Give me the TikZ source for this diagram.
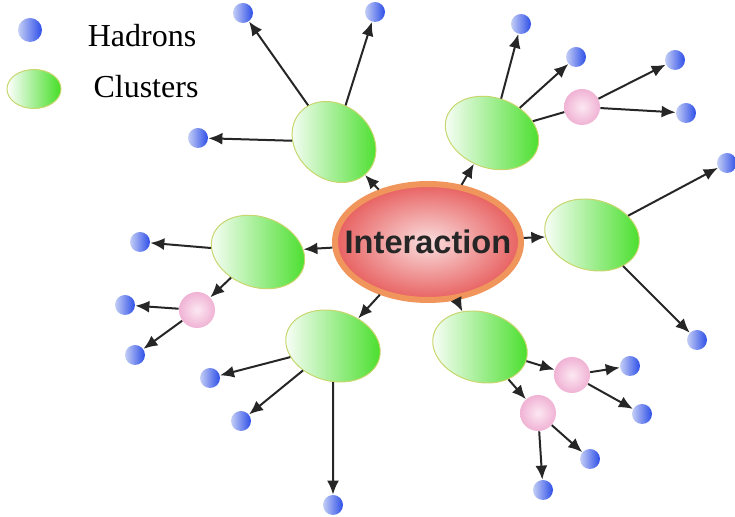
\documentclass[tikz,border=0pt]{standalone}
\usepackage{fontspec}
\setmainfont{Liberation Serif}
\newfontfamily\boldsans{Liberation Sans}
\usetikzlibrary{shapes.geometric, arrows.meta}
\definecolor{hadronblue}{RGB}{45,78,232}
\definecolor{hadronlight}{RGB}{196,206,245}
\definecolor{clustergreen}{RGB}{68,222,38}
\definecolor{clusterrim}{RGB}{200,214,110}
\definecolor{resopink}{RGB}{240,178,212}
\definecolor{resolight}{RGB}{252,232,242}
\definecolor{hotred}{RGB}{232,96,96}
\definecolor{hotlight}{RGB}{250,222,222}
\definecolor{ringorange}{RGB}{240,150,92}

\begin{document}
\begin{tikzpicture}[x=0.5pt, y=-0.5pt, >={Latex[length=7pt,width=6pt]},
	hadron/.style={circle, inner sep=0pt, minimum size=10pt, left color=hadronlight, right color=hadronblue},
	cluster/.style={ellipse, draw=clusterrim, line width=0.5pt, inner sep=0pt, minimum width=48pt, minimum height=35pt, left color=white, right color=clustergreen},
	reso/.style={circle, inner sep=0pt, minimum size=18pt, inner color=resolight, outer color=resopink},
	flow/.style={->, line width=1pt, black!85},
	plain/.style={line width=1pt, black!85}]
			\useasboundingbox (0,0) rectangle (735,517);
			%%% Legenda
			\node[hadron, minimum size=12pt] (lh) at (30,30) {};
			\node[cluster, minimum width=27pt, minimum height=19.5pt] (lc) at (34,89) {};
			\node[font=\fontsize{16}{18}\selectfont] (lht) at (142,36) {Hadrons};
			\node[font=\fontsize{16}{18}\selectfont] (lct) at (146,87) {Clusters};
			%%% Interazione
			\node[ellipse, draw=ringorange, line width=3pt, inner sep=0pt, minimum width=93pt, minimum height=58pt,
				inner color=hotlight, outer color=hotred] (int) at (428,242) {};
			\node[font=\boldsans\bfseries\fontsize{16.3}{18}\selectfont, text=black!85] (intt) at (int) {Interaction};
			%%% Cluster
			\node[cluster, minimum width=45pt, minimum height=37pt, rotate=-40] (c1) at (334,142) {};
			\node[cluster, rotate=-20] (c2) at (492,133) {};
			\node[cluster, rotate=-15] (c3) at (592,235) {};
			\node[cluster, rotate=-20] (c4) at (258,252) {};
			\node[cluster, rotate=-15] (c5) at (333,346) {};
			\node[cluster, rotate=-15] (c6) at (480,347) {};
			%%% Risonanze
			\node[reso] (p1) at (582,107) {};
			\node[reso] (p2) at (197,310) {};
			\node[reso] (p3) at (572,375) {};
			\node[reso] (p4) at (538,413) {};
			%%% Adroni
			\node[hadron] (h1) at (243,13) {};
			\node[hadron] (h2) at (375,12) {};
			\node[hadron] (h3) at (198,138) {};
			\node[hadron] (h4) at (521,24) {};
			\node[hadron] (h5) at (576,57) {};
			\node[hadron] (h6) at (675,60) {};
			\node[hadron] (h7) at (686,113) {};
			\node[hadron] (h8) at (727,163) {};
			\node[hadron] (h9) at (697,340) {};
			\node[hadron] (h10) at (140,242) {};
			\node[hadron] (h11) at (125,305) {};
			\node[hadron] (h12) at (135,355) {};
			\node[hadron] (h13) at (210,378) {};
			\node[hadron] (h14) at (241,421) {};
			\node[hadron] (h15) at (333,505) {};
			\node[hadron] (h16) at (630,366) {};
			\node[hadron] (h17) at (642,414) {};
			\node[hadron] (h18) at (590,459) {};
			\node[hadron] (h19) at (543,490) {};
			%%% Frecce dall'interazione
			\foreach \c in {c1,c2,c3,c4,c5,c6}
			\draw[flow] (int) -- (\c);
			%%% Frecce dai cluster
			\draw[flow] (c1) -- (h1);
			\draw[flow] (c1) -- (h2);
			\draw[flow] (c1) -- (h3);
			\draw[flow] (c2) -- (h4);
			\draw[flow] (c2) -- (h5);
			\draw[plain] (c2) -- (p1);
			\draw[flow] (c3) -- (h8);
			\draw[flow] (c3) -- (h9);
			\draw[flow] (c4) -- (h10);
			\draw[flow] (c4) -- (p2);
			\draw[flow] (c5) -- (h13);
			\draw[flow] (c5) -- (h14);
			\draw[flow] (c5) -- (h15);
			\draw[flow] (c6) -- (p3);
			\draw[flow] (c6) -- (p4);
			%%% Frecce dalle risonanze
			\draw[flow] (p1) -- (h6);
			\draw[flow] (p1) -- (h7);
			\draw[flow] (p2) -- (h11);
			\draw[flow] (p2) -- (h12);
			\draw[flow] (p3) -- (h16);
			\draw[flow] (p3) -- (h17);
			\draw[flow] (p4) -- (h18);
			\draw[flow] (p4) -- (h19);
		\end{tikzpicture}
\end{document}
